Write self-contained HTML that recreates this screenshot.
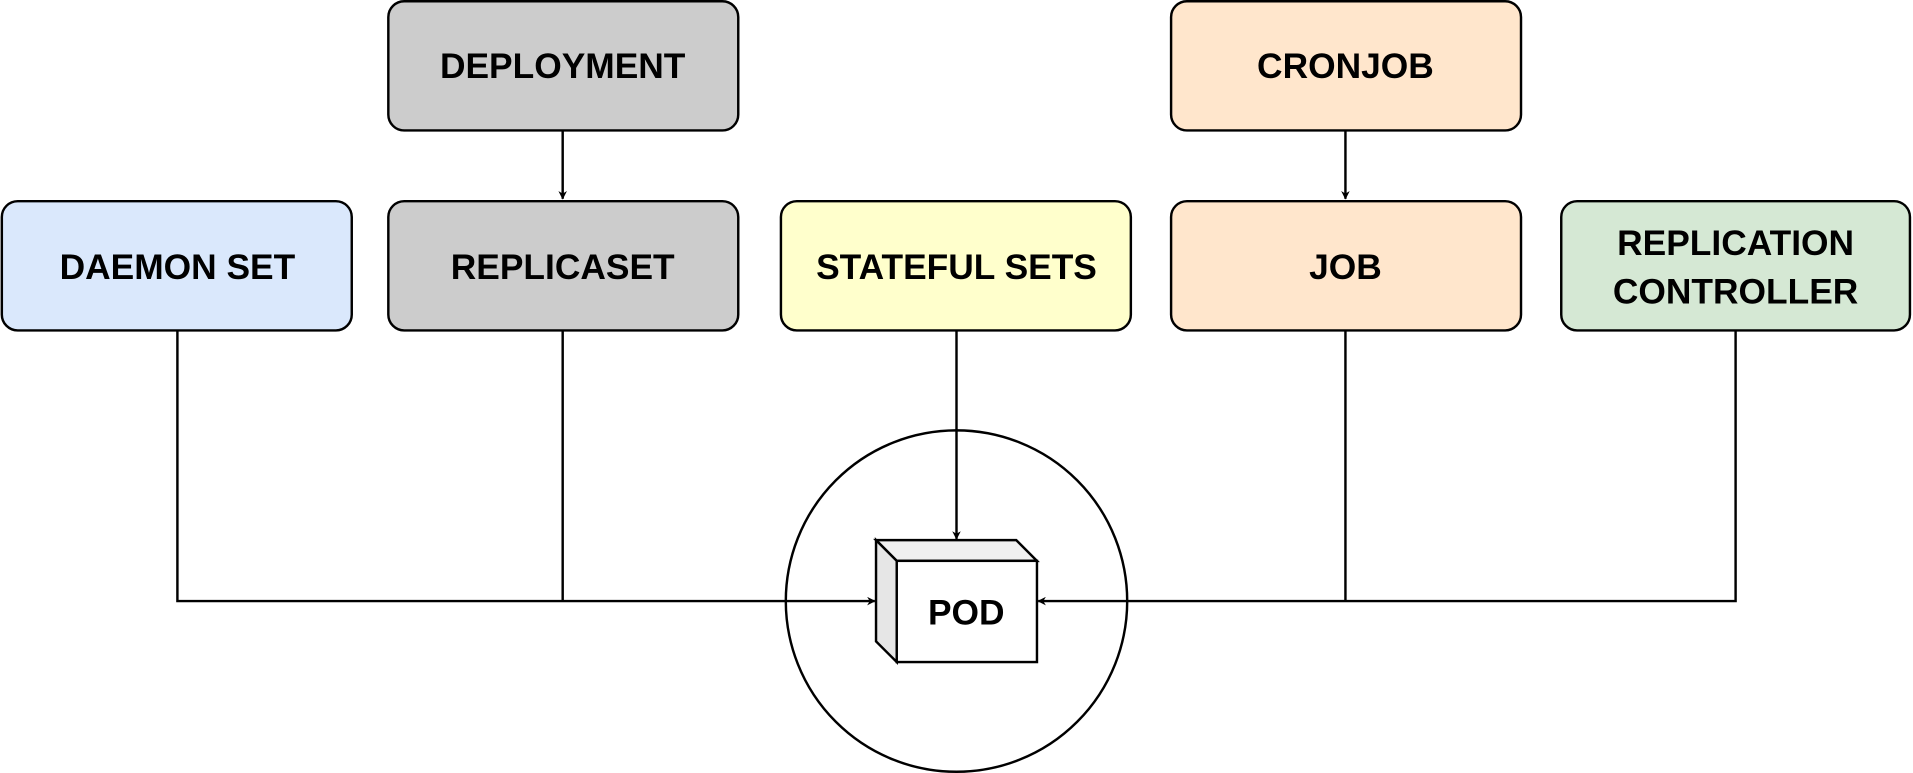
<!DOCTYPE html>
<html><head><style>html,body{margin:0;padding:0;background:#fff}svg{display:block}</style></head><body>
<svg width="1913" height="773" viewBox="0 0 1568 634" xmlns="http://www.w3.org/2000/svg" font-family="'Liberation Sans',Arial,sans-serif" font-weight="bold" font-size="29">
<defs><marker id="a" viewBox="0 0 10 10" refX="9" refY="5" markerWidth="7" markerHeight="7" orient="auto" markerUnits="userSpaceOnUse"><path d="M0,0 L10,5 L0,10 L3,5 z" fill="#000"/></marker></defs>
<g stroke="#000" stroke-width="2">
<rect x="318" y="1" width="287" height="106" rx="13" fill="#cccccc"/>
<rect x="960" y="1" width="287" height="106" rx="13" fill="#ffe6cc"/>
<rect x="1" y="165" width="287" height="106" rx="13" fill="#dae8fc"/>
<rect x="318" y="165" width="287" height="106" rx="13" fill="#cccccc"/>
<rect x="640" y="165" width="287" height="106" rx="13" fill="#ffffcc"/>
<rect x="960" y="165" width="287" height="106" rx="13" fill="#ffe6cc"/>
<rect x="1280" y="165" width="286" height="106" rx="13" fill="#d5e8d4"/>
<circle cx="784" cy="493" r="140" fill="none"/>
<g fill="none">
<path d="M461 107 V163" marker-end="url(#a)"/>
<path d="M1103 107 V163" marker-end="url(#a)"/>
<path d="M784 271 V442" marker-end="url(#a)"/>
<path d="M145 271 V493 H717" marker-end="url(#a)"/>
<path d="M461 271 V493"/>
<path d="M1423 271 V493 H851" marker-end="url(#a)"/>
<path d="M1103 271 V493"/>
</g>
<path d="M718 443 H833 L850 460 H735 Z" fill="#f0f0f0"/>
<path d="M718 443 L735 460 V543 L718 526 Z" fill="#e6e6e6"/>
<rect x="735" y="460" width="115" height="83" fill="#fff"/>
</g>
<g text-anchor="middle">
<text x="461" y="64">DEPLOYMENT</text>
<text x="1103" y="64">CRONJOB</text>
<text x="145" y="229">DAEMON SET</text>
<text x="461" y="229">REPLICASET</text>
<text x="784" y="229">STATEFUL SETS</text>
<text x="1103" y="229">JOB</text>
<text x="1423" y="209">REPLICATION</text>
<text x="1423" y="249">CONTROLLER</text>
<text x="792" y="512">POD</text>
</g>
</svg>
</body></html>
